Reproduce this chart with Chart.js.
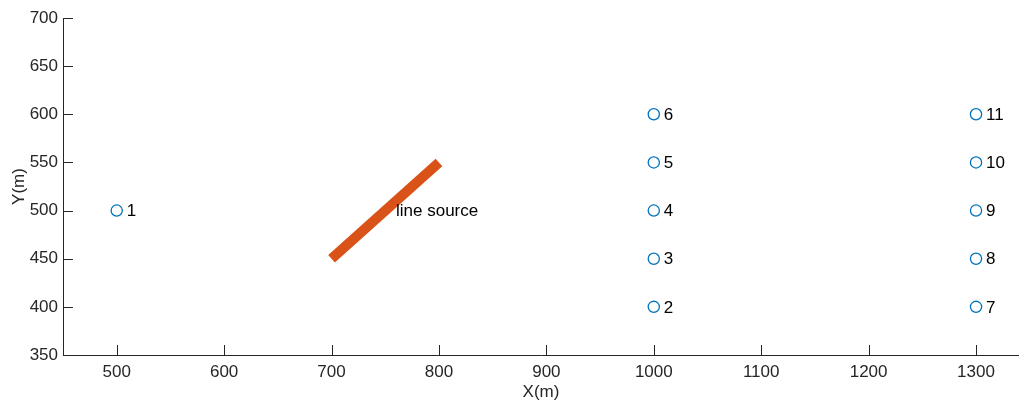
<!DOCTYPE html>
<html>
<head>
<meta charset="utf-8">
<script src="https://cdn.jsdelivr.net/npm/chart.js@4.4.1/dist/chart.umd.min.js"></script>
<style>
  html, body { margin: 0; padding: 0; background: #fff; overflow: hidden; }
  canvas { display: block; }
</style>
</head>
<body>
<canvas id="c" width="1019" height="401"></canvas>
<script>
// Receptor positions (m) and their labels
const receptorX = [500, 1000, 1000, 1000, 1000, 1000, 1300, 1300, 1300, 1300, 1300];
const receptorY = [500, 400, 450, 500, 550, 600, 400, 450, 500, 550, 600];
const receptorLabels = ['1', '2', '3', '4', '5', '6', '7', '8', '9', '10', '11'];

// Line source end points (m)
const sourceX = [700, 800];
const sourceY = [450, 550];
const sourceLabel = 'line source';
const sourceLabelAt = [760, 500];

// Axis ticks
const xTicks = [500, 600, 700, 800, 900, 1000, 1100, 1200, 1300];
const yTicks = [350, 400, 450, 500, 550, 600, 650, 700];

const AXIS_COLOR = '#262626';
const FONT = '"Liberation Sans", Arial, Helvetica, sans-serif';

const receptorPoints = receptorX.map((x, i) => ({ x, y: receptorY[i] }));
const sourcePoints = sourceX.map((x, i) => ({ x, y: sourceY[i] }));

// Tick marks drawn inside the plot area, plus point and source labels
const annotate = {
  id: 'annotate',
  afterDatasetsDraw(chart) {
    const ctx = chart.ctx;
    const xs = chart.scales.x, ys = chart.scales.y;
    const area = chart.chartArea;
    ctx.save();
    ctx.strokeStyle = AXIS_COLOR;
    ctx.lineWidth = 1;
    ctx.beginPath();
    xs.ticks.forEach(t => {
      const px = Math.round(xs.getPixelForValue(t.value)) + 0.5;
      ctx.moveTo(px, area.bottom);
      ctx.lineTo(px, area.bottom - 10);
    });
    ys.ticks.forEach(t => {
      const py = Math.round(ys.getPixelForValue(t.value)) + 0.5;
      ctx.moveTo(area.left, py);
      ctx.lineTo(area.left + 10, py);
    });
    ctx.stroke();

    ctx.fillStyle = '#000';
    ctx.font = '17px ' + FONT;
    ctx.textBaseline = 'middle';
    ctx.textAlign = 'left';
    receptorPoints.forEach((p, i) => {
      ctx.fillText(receptorLabels[i], xs.getPixelForValue(p.x) + 10, ys.getPixelForValue(p.y) + 1);
    });
    ctx.fillText(sourceLabel, xs.getPixelForValue(sourceLabelAt[0]), ys.getPixelForValue(sourceLabelAt[1]) + 1);
    ctx.restore();
  }
};

new Chart(document.getElementById('c'), {
  type: 'scatter',
  data: {
    datasets: [
      {
        label: 'line source',
        data: sourcePoints,
        showLine: true,
        borderColor: '#D95319',
        borderWidth: 10,
        borderCapStyle: 'butt',
        pointRadius: 0,
        pointHoverRadius: 0
      },
      {
        label: 'receptors',
        data: receptorPoints,
        showLine: false,
        pointStyle: 'circle',
        pointRadius: 5.6,
        pointBorderWidth: 1.3,
        pointBorderColor: '#0072BD',
        pointBackgroundColor: 'rgba(0,0,0,0)'
      }
    ]
  },
  options: {
    responsive: false,
    animation: false,
    events: [],
    layout: { autoPadding: false, padding: { top: 18, right: 0, bottom: 0, left: 0 } },
    plugins: { legend: { display: false }, tooltip: { enabled: false } },
    scales: {
      x: {
        type: 'linear',
        min: 450,
        max: 1340,
        afterBuildTicks: s => { s.ticks = xTicks.map(v => ({ value: v })); },
        afterFit: s => { s.height = 46; s.paddingRight = 0; s.paddingLeft = 0; },
        grid: { display: true, drawOnChartArea: false, drawTicks: false, color: AXIS_COLOR },
        border: { display: true, color: AXIS_COLOR, width: 1 },
        ticks: { color: AXIS_COLOR, font: { family: FONT, size: 17 }, padding: 7, maxRotation: 0, autoSkip: false,
                 callback: v => String(v) },
        title: { display: true, text: 'X(m)', color: AXIS_COLOR, font: { family: FONT, size: 17 }, padding: { top: 0, bottom: -2 } }
      },
      y: {
        type: 'linear',
        min: 350,
        max: 700,
        afterBuildTicks: s => { s.ticks = yTicks.map(v => ({ value: v })); },
        afterFit: s => { s.width = 63; s.paddingTop = 0; s.paddingBottom = 0; },
        grid: { display: true, drawOnChartArea: false, drawTicks: false, color: AXIS_COLOR },
        border: { display: true, color: AXIS_COLOR, width: 1 },
        ticks: { color: AXIS_COLOR, font: { family: FONT, size: 17 }, padding: 5, autoSkip: false,
                 callback: v => String(v) },
        title: { display: true, text: 'Y(m)', color: AXIS_COLOR, font: { family: FONT, size: 17 }, padding: { top: 9, bottom: 0 } }
      }
    }
  },
  plugins: [annotate]
});
</script>
</body>
</html>
